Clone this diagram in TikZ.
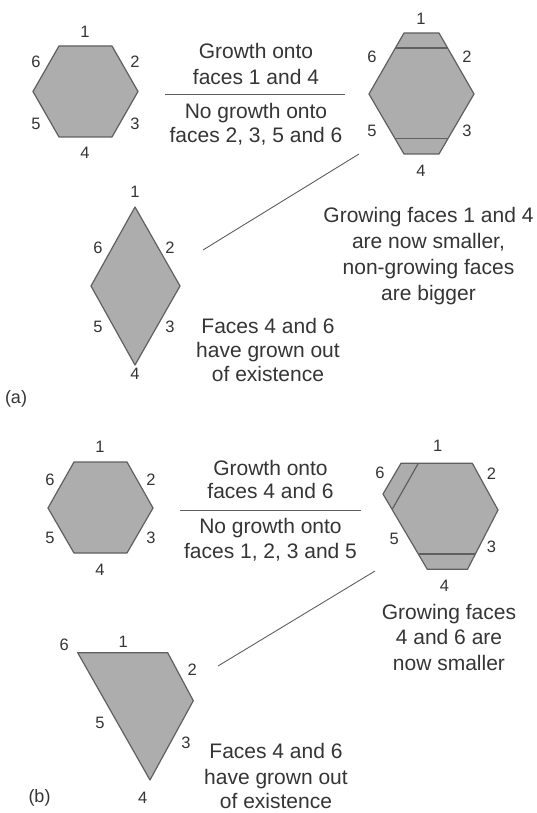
\documentclass[tikz,border=0pt]{standalone}
\usepackage{fontspec}
\setmainfont{Liberation Sans}
\definecolor{txt}{HTML}{353535}
\definecolor{fillg}{HTML}{ADADAD}
\definecolor{edge}{HTML}{606060}
\begin{document}
\begin{tikzpicture}[x=1pt,y=-1pt,
  crystal/.style={fill=fillg,draw=edge,line width=1.2pt,line join=round},
  growline/.style={draw=edge,line width=1.2pt},
  lbl/.style={text=txt,font=\fontsize{16.5}{17}\selectfont,inner sep=0pt},
  note/.style={text=txt,font=\fontsize{21}{25}\selectfont,inner sep=0pt,anchor=base},
  rulel/.style={draw=edge,line width=1pt},
  link/.style={draw=edge,line width=0.9pt}]
\useasboundingbox[fill=white] (0,0) rectangle (537,813);

% ---------------- (a) ----------------
\draw[crystal] (59,46) -- (112,46) -- (138,91.5) -- (112,137) -- (59,137) -- (33,91.5) -- cycle;
\node[lbl] (a1n1) at (85,32) {1};
\node[lbl] (a1n2) at (135,62) {2};
\node[lbl] (a1n3) at (135,124) {3};
\node[lbl] (a1n4) at (85,153) {4};
\node[lbl] (a1n5) at (36,124) {5};
\node[lbl] (a1n6) at (36,62) {6};

\node[note] (at1) at (256,58.3) {Growth onto};
\node[note] (at2) at (256,84.3) {faces 1 and 4};
\coordinate (ar1) at (165,94.3);
\coordinate (ar2) at (345,94.3);
\draw[rulel] (ar1) -- (ar2);
\node[note] (at3) at (256,118.3) {No growth onto};
\node[note] (at4) at (256,142.5) {faces 2, 3, 5 and 6};

\draw[crystal] (404,33) -- (439,33) -- (474,94) -- (439,154) -- (404,154) -- (369,94) -- cycle;
\coordinate (a2g1l) at (395.4,48);
\coordinate (a2g1r) at (447.6,48);
\coordinate (a2g4l) at (395.4,138.5);
\coordinate (a2g4r) at (447.6,138.5);
\draw[growline] (a2g1l) -- (a2g1r);
\draw[growline] (a2g4l) -- (a2g4r);
\node[lbl] (a2n1) at (421,19) {1};
\node[lbl] (a2n2) at (467,57) {2};
\node[lbl] (a2n3) at (467,131) {3};
\node[lbl] (a2n4) at (421,171) {4};
\node[lbl] (a2n5) at (372,131) {5};
\node[lbl] (a2n6) at (372,57) {6};

\node[note] (ag1) at (428.5,222.5) {Growing faces 1 and 4};
\node[note] (ag2) at (428.5,248) {are now smaller,};
\node[note] (ag3) at (428.5,274) {non-growing faces};
\node[note] (ag4) at (428.5,300) {are bigger};

\coordinate (al1) at (359,154);
\coordinate (al2) at (203,250);
\draw[link] (al1) -- (al2);

\draw[crystal] (135,207) -- (180,286) -- (135,365) -- (91,286) -- cycle;
\node[lbl] (a3n1) at (135,192) {1};
\node[lbl] (a3n2) at (170,248) {2};
\node[lbl] (a3n3) at (170,327) {3};
\node[lbl] (a3n4) at (135,374) {4};
\node[lbl] (a3n5) at (98,327) {5};
\node[lbl] (a3n6) at (98,248) {6};

\node[note] (af1) at (268,333.3) {Faces 4 and 6};
\node[note] (af2) at (268,357.5) {have grown out};
\node[note] (af3) at (268,381.7) {of existence};

\node[lbl,font=\fontsize{18}{18}\selectfont] (alab) at (16,399) {(a)};

% ---------------- (b) ----------------
\draw[crystal] (74,462) -- (127,462) -- (153,508) -- (127,553) -- (74,553) -- (48,508) -- cycle;
\node[lbl] (b1n1) at (100,447) {1};
\node[lbl] (b1n2) at (151,480) {2};
\node[lbl] (b1n3) at (151,538) {3};
\node[lbl] (b1n4) at (100,570) {4};
\node[lbl] (b1n5) at (50,538) {5};
\node[lbl] (b1n6) at (50,480) {6};

\node[note] (bt1) at (270.5,475) {Growth onto};
\node[note] (bt2) at (270.5,498.5) {faces 4 and 6};
\coordinate (br1) at (180,510);
\coordinate (br2) at (360.7,510);
\draw[rulel] (br1) -- (br2);
\node[note] (bt3) at (270.5,533.3) {No growth onto};
\node[note] (bt4) at (270.5,558) {faces 1, 2, 3 and 5};

\draw[crystal] (401,463.3) -- (472.3,463.3) -- (498,510) -- (467.5,569.3) -- (427.3,569.3) -- (383,494) -- cycle;
\coordinate (b2g6t) at (418.3,463.3);
\coordinate (b2g6b) at (392.4,509);
\coordinate (b2g4l) at (418.8,554);
\coordinate (b2g4r) at (474.5,554);
\draw[growline] (b2g6t) -- (b2g6b);
\draw[growline] (b2g4l) -- (b2g4r);
\node[lbl] (b2n1) at (437.7,446) {1};
\node[lbl] (b2n2) at (491.5,473.3) {2};
\node[lbl] (b2n3) at (491.5,547.3) {3};
\node[lbl] (b2n4) at (444.5,586) {4};
\node[lbl] (b2n5) at (394.3,539.3) {5};
\node[lbl] (b2n6) at (380,473.3) {6};

\node[note] (bg1) at (449,619) {Growing faces};
\node[note] (bg2) at (449,644) {4 and 6 are};
\node[note] (bg3) at (449,670) {now smaller};

\coordinate (bl1) at (375,571);
\coordinate (bl2) at (218,666);
\draw[link] (bl1) -- (bl2);

\draw[crystal] (77.7,652.7) -- (167.7,652.7) -- (193.3,700.7) -- (150,780) -- cycle;
\node[lbl] (b3n1) at (123.3,641.7) {1};
\node[lbl] (b3n2) at (192.3,670) {2};
\node[lbl] (b3n3) at (186,742.7) {3};
\node[lbl] (b3n4) at (142.7,798.3) {4};
\node[lbl] (b3n5) at (100,722.7) {5};
\node[lbl] (b3n6) at (64.3,645) {6};

\node[note] (bf1) at (276,758.3) {Faces 4 and 6};
\node[note] (bf2) at (276,784) {have grown out};
\node[note] (bf3) at (276,808.3) {of existence};

\node[lbl,font=\fontsize{18}{18}\selectfont] (blab) at (39.5,798) {(b)};
\end{tikzpicture}
\end{document}
